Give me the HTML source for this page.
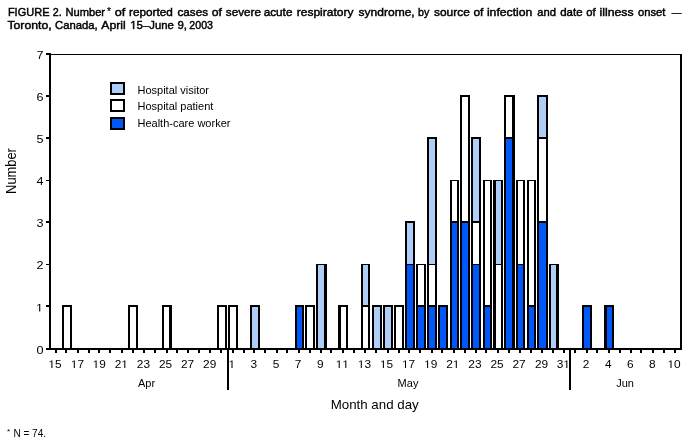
<!DOCTYPE html>
<html><head><meta charset="utf-8"><style>
html,body{margin:0;padding:0;background:#fff;}
svg{display:block;}
#wrap{will-change:transform;width:692px;height:444px;}
text{font-family:"Liberation Sans",sans-serif;fill:#000;}
.r11{font-size:11px;}
.r10{font-size:10px;}
.r8{font-size:8px;}
.r13{font-size:13px;}
.ttl{font-size:11.5px;stroke:#000;stroke-width:0.45px;}
</style></head><body><div id="wrap">
<svg width="692" height="444" viewBox="0 0 692 444" shape-rendering="crispEdges">
<rect width="692" height="444" fill="#fff"/>
<rect x="49" y="53" width="2" height="297" fill="#000"/>
<rect x="49" y="54" width="633" height="1" fill="#000"/>
<rect x="680" y="54" width="2" height="296" fill="#000"/>
<rect x="62" y="305" width="10" height="43" fill="#000"/>
<rect x="64" y="307" width="6" height="41" fill="#ffffff"/>
<rect x="128" y="305" width="10" height="43" fill="#000"/>
<rect x="130" y="307" width="6" height="41" fill="#ffffff"/>
<rect x="162" y="305" width="10" height="43" fill="#000"/>
<rect x="164" y="307" width="5" height="41" fill="#ffffff"/>
<rect x="217" y="305" width="10" height="43" fill="#000"/>
<rect x="219" y="307" width="6" height="41" fill="#ffffff"/>
<rect x="228" y="305" width="10" height="43" fill="#000"/>
<rect x="230" y="307" width="6" height="41" fill="#ffffff"/>
<rect x="250" y="305" width="10" height="43" fill="#000"/>
<rect x="252" y="307" width="6" height="41" fill="#b0cdf8"/>
<rect x="295" y="305" width="9" height="43" fill="#000"/>
<rect x="297" y="307" width="5" height="41" fill="#0058f8"/>
<rect x="305" y="305" width="10" height="43" fill="#000"/>
<rect x="307" y="307" width="6" height="41" fill="#ffffff"/>
<rect x="316" y="264" width="11" height="84" fill="#000"/>
<rect x="318" y="265" width="6" height="83" fill="#b0cdf8"/>
<rect x="338" y="305" width="10" height="43" fill="#000"/>
<rect x="341" y="307" width="5" height="41" fill="#ffffff"/>
<rect x="361" y="264" width="9" height="84" fill="#000"/>
<rect x="363" y="307" width="5" height="41" fill="#ffffff"/>
<rect x="363" y="265" width="5" height="40" fill="#b0cdf8"/>
<rect x="372" y="305" width="10" height="43" fill="#000"/>
<rect x="374" y="307" width="6" height="41" fill="#b0cdf8"/>
<rect x="383" y="305" width="10" height="43" fill="#000"/>
<rect x="385" y="307" width="6" height="41" fill="#b0cdf8"/>
<rect x="394" y="305" width="10" height="43" fill="#000"/>
<rect x="396" y="307" width="6" height="41" fill="#ffffff"/>
<rect x="405" y="221" width="10" height="127" fill="#000"/>
<rect x="407" y="265" width="6" height="83" fill="#0058f8"/>
<rect x="407" y="223" width="6" height="41" fill="#b0cdf8"/>
<rect x="416" y="264" width="10" height="84" fill="#000"/>
<rect x="418" y="307" width="6" height="41" fill="#0058f8"/>
<rect x="418" y="265" width="6" height="40" fill="#ffffff"/>
<rect x="427" y="137" width="10" height="211" fill="#000"/>
<rect x="429" y="307" width="6" height="41" fill="#0058f8"/>
<rect x="429" y="265" width="6" height="40" fill="#ffffff"/>
<rect x="429" y="139" width="6" height="125" fill="#b0cdf8"/>
<rect x="438" y="305" width="10" height="43" fill="#000"/>
<rect x="440" y="307" width="6" height="41" fill="#0058f8"/>
<rect x="450" y="180" width="9" height="168" fill="#000"/>
<rect x="452" y="223" width="5" height="125" fill="#0058f8"/>
<rect x="452" y="181" width="5" height="40" fill="#ffffff"/>
<rect x="460" y="95" width="10" height="253" fill="#000"/>
<rect x="462" y="223" width="6" height="125" fill="#0058f8"/>
<rect x="462" y="97" width="6" height="124" fill="#ffffff"/>
<rect x="471" y="137" width="10" height="211" fill="#000"/>
<rect x="473" y="265" width="6" height="83" fill="#0058f8"/>
<rect x="473" y="223" width="6" height="41" fill="#ffffff"/>
<rect x="473" y="139" width="6" height="82" fill="#b0cdf8"/>
<rect x="483" y="180" width="9" height="168" fill="#000"/>
<rect x="485" y="307" width="5" height="41" fill="#0058f8"/>
<rect x="485" y="181" width="5" height="124" fill="#ffffff"/>
<rect x="493" y="180" width="10" height="168" fill="#000"/>
<rect x="496" y="265" width="5" height="83" fill="#ffffff"/>
<rect x="496" y="181" width="5" height="83" fill="#b0cdf8"/>
<rect x="504" y="95" width="11" height="253" fill="#000"/>
<rect x="506" y="139" width="6" height="209" fill="#0058f8"/>
<rect x="506" y="97" width="6" height="40" fill="#ffffff"/>
<rect x="516" y="180" width="9" height="168" fill="#000"/>
<rect x="518" y="265" width="5" height="83" fill="#0058f8"/>
<rect x="518" y="181" width="5" height="83" fill="#ffffff"/>
<rect x="527" y="180" width="9" height="168" fill="#000"/>
<rect x="529" y="307" width="5" height="41" fill="#0058f8"/>
<rect x="529" y="181" width="5" height="124" fill="#ffffff"/>
<rect x="537" y="95" width="11" height="253" fill="#000"/>
<rect x="539" y="223" width="7" height="125" fill="#0058f8"/>
<rect x="539" y="139" width="7" height="82" fill="#ffffff"/>
<rect x="539" y="97" width="7" height="40" fill="#b0cdf8"/>
<rect x="549" y="264" width="10" height="84" fill="#000"/>
<rect x="551" y="265" width="5" height="83" fill="#b0cdf8"/>
<rect x="582" y="305" width="10" height="43" fill="#000"/>
<rect x="584" y="307" width="6" height="41" fill="#0058f8"/>
<rect x="604" y="305" width="10" height="43" fill="#000"/>
<rect x="607" y="307" width="5" height="41" fill="#0058f8"/>
<rect x="46" y="348" width="636" height="2" fill="#000"/>
<rect x="46" y="348" width="3" height="2" fill="#000"/>
<rect x="46" y="305" width="3" height="2" fill="#000"/>
<rect x="46" y="264" width="3" height="1" fill="#000"/>
<rect x="46" y="221" width="3" height="2" fill="#000"/>
<rect x="46" y="180" width="3" height="1" fill="#000"/>
<rect x="46" y="137" width="3" height="2" fill="#000"/>
<rect x="46" y="95" width="3" height="2" fill="#000"/>
<rect x="46" y="53" width="3" height="2" fill="#000"/>
<rect x="55" y="350" width="2" height="3" fill="#000"/>
<rect x="65" y="350" width="2" height="3" fill="#000"/>
<rect x="77" y="350" width="2" height="3" fill="#000"/>
<rect x="88" y="350" width="2" height="3" fill="#000"/>
<rect x="98" y="350" width="2" height="3" fill="#000"/>
<rect x="109" y="350" width="2" height="3" fill="#000"/>
<rect x="121" y="350" width="2" height="3" fill="#000"/>
<rect x="132" y="350" width="2" height="3" fill="#000"/>
<rect x="143" y="350" width="2" height="3" fill="#000"/>
<rect x="154" y="350" width="2" height="3" fill="#000"/>
<rect x="166" y="350" width="2" height="3" fill="#000"/>
<rect x="176" y="350" width="2" height="3" fill="#000"/>
<rect x="187" y="350" width="2" height="3" fill="#000"/>
<rect x="198" y="350" width="2" height="3" fill="#000"/>
<rect x="209" y="350" width="2" height="3" fill="#000"/>
<rect x="220" y="350" width="2" height="3" fill="#000"/>
<rect x="232" y="350" width="2" height="3" fill="#000"/>
<rect x="243" y="350" width="2" height="3" fill="#000"/>
<rect x="253" y="350" width="2" height="3" fill="#000"/>
<rect x="264" y="350" width="2" height="3" fill="#000"/>
<rect x="276" y="350" width="2" height="3" fill="#000"/>
<rect x="286" y="350" width="2" height="3" fill="#000"/>
<rect x="298" y="350" width="2" height="3" fill="#000"/>
<rect x="309" y="350" width="2" height="3" fill="#000"/>
<rect x="320" y="350" width="2" height="3" fill="#000"/>
<rect x="330" y="350" width="2" height="3" fill="#000"/>
<rect x="342" y="350" width="2" height="3" fill="#000"/>
<rect x="353" y="350" width="2" height="3" fill="#000"/>
<rect x="364" y="350" width="2" height="3" fill="#000"/>
<rect x="375" y="350" width="2" height="3" fill="#000"/>
<rect x="387" y="350" width="2" height="3" fill="#000"/>
<rect x="398" y="350" width="2" height="3" fill="#000"/>
<rect x="408" y="350" width="2" height="3" fill="#000"/>
<rect x="419" y="350" width="2" height="3" fill="#000"/>
<rect x="431" y="350" width="2" height="3" fill="#000"/>
<rect x="441" y="350" width="2" height="3" fill="#000"/>
<rect x="453" y="350" width="2" height="3" fill="#000"/>
<rect x="464" y="350" width="2" height="3" fill="#000"/>
<rect x="475" y="350" width="2" height="3" fill="#000"/>
<rect x="485" y="350" width="2" height="3" fill="#000"/>
<rect x="497" y="350" width="2" height="3" fill="#000"/>
<rect x="508" y="350" width="2" height="3" fill="#000"/>
<rect x="519" y="350" width="2" height="3" fill="#000"/>
<rect x="530" y="350" width="2" height="3" fill="#000"/>
<rect x="541" y="350" width="2" height="3" fill="#000"/>
<rect x="552" y="350" width="2" height="3" fill="#000"/>
<rect x="563" y="350" width="2" height="3" fill="#000"/>
<rect x="574" y="350" width="2" height="3" fill="#000"/>
<rect x="586" y="350" width="2" height="3" fill="#000"/>
<rect x="596" y="350" width="2" height="3" fill="#000"/>
<rect x="608" y="350" width="2" height="3" fill="#000"/>
<rect x="619" y="350" width="2" height="3" fill="#000"/>
<rect x="630" y="350" width="2" height="3" fill="#000"/>
<rect x="640" y="350" width="2" height="3" fill="#000"/>
<rect x="652" y="350" width="2" height="3" fill="#000"/>
<rect x="663" y="350" width="2" height="3" fill="#000"/>
<rect x="674" y="350" width="2" height="3" fill="#000"/>
<rect x="227" y="348" width="2" height="42" fill="#000"/>
<rect x="569" y="348" width="2" height="42" fill="#000"/>
<rect x="110" y="82" width="15" height="13" fill="#000"/>
<rect x="112" y="84" width="11" height="9" fill="#b0cdf8"/>
<rect x="110" y="99" width="15" height="13" fill="#000"/>
<rect x="112" y="101" width="11" height="9" fill="#ffffff"/>
<rect x="110" y="117" width="15" height="13" fill="#000"/>
<rect x="112" y="119" width="11" height="9" fill="#0058f8"/>
<g shape-rendering="auto">
<text transform="translate(36.56,353.5) scale(1.15,1)" class="r11">0</text>
<path transform="translate(35.96,311.5) scale(0.006177,-0.005371)" d="M515,0L515,1237L197,1010L197,1180L530,1409L696,1409L696,0Z"/>
<text transform="translate(36.56,269.0) scale(1.15,1)" class="r11">2</text>
<text transform="translate(36.56,226.5) scale(1.15,1)" class="r11">3</text>
<text transform="translate(36.56,185.0) scale(1.15,1)" class="r11">4</text>
<text transform="translate(36.56,142.5) scale(1.15,1)" class="r11">5</text>
<text transform="translate(36.56,100.5) scale(1.15,1)" class="r11">6</text>
<text transform="translate(36.56,58.5) scale(1.15,1)" class="r11">7</text>
<path transform="translate(48.39,368) scale(0.005801,-0.005371)" d="M515,0L515,1237L197,1010L197,1180L530,1409L696,1409L696,0Z"/>
<text transform="translate(55.00,368) scale(1.08,1)" class="r11">5</text>
<path transform="translate(70.79,368) scale(0.005801,-0.005371)" d="M515,0L515,1237L197,1010L197,1180L530,1409L696,1409L696,0Z"/>
<text transform="translate(77.40,368) scale(1.08,1)" class="r11">7</text>
<path transform="translate(92.59,368) scale(0.005801,-0.005371)" d="M515,0L515,1237L197,1010L197,1180L530,1409L696,1409L696,0Z"/>
<text transform="translate(99.20,368) scale(1.08,1)" class="r11">9</text>
<text transform="translate(114.69,368) scale(1.08,1)" class="r11">2</text>
<path transform="translate(121.30,368) scale(0.005801,-0.005371)" d="M515,0L515,1237L197,1010L197,1180L530,1409L696,1409L696,0Z"/>
<text transform="translate(136.79,368) scale(1.08,1)" class="r11">2</text>
<text transform="translate(143.40,368) scale(1.08,1)" class="r11">3</text>
<text transform="translate(158.89,368) scale(1.08,1)" class="r11">2</text>
<text transform="translate(165.50,368) scale(1.08,1)" class="r11">5</text>
<text transform="translate(180.99,368) scale(1.08,1)" class="r11">2</text>
<text transform="translate(187.60,368) scale(1.08,1)" class="r11">7</text>
<text transform="translate(203.09,368) scale(1.08,1)" class="r11">2</text>
<text transform="translate(209.70,368) scale(1.08,1)" class="r11">9</text>
<path transform="translate(228.50,368) scale(0.005801,-0.005371)" d="M515,0L515,1237L197,1010L197,1180L530,1409L696,1409L696,0Z"/>
<text transform="translate(250.60,368) scale(1.08,1)" class="r11">3</text>
<text transform="translate(272.70,368) scale(1.08,1)" class="r11">5</text>
<text transform="translate(294.80,368) scale(1.08,1)" class="r11">7</text>
<text transform="translate(316.90,368) scale(1.08,1)" class="r11">9</text>
<path transform="translate(335.69,368) scale(0.005801,-0.005371)" d="M515,0L515,1237L197,1010L197,1180L530,1409L696,1409L696,0Z"/>
<path transform="translate(342.30,368) scale(0.005801,-0.005371)" d="M515,0L515,1237L197,1010L197,1180L530,1409L696,1409L696,0Z"/>
<path transform="translate(357.79,368) scale(0.005801,-0.005371)" d="M515,0L515,1237L197,1010L197,1180L530,1409L696,1409L696,0Z"/>
<text transform="translate(364.40,368) scale(1.08,1)" class="r11">3</text>
<path transform="translate(379.89,368) scale(0.005801,-0.005371)" d="M515,0L515,1237L197,1010L197,1180L530,1409L696,1409L696,0Z"/>
<text transform="translate(386.50,368) scale(1.08,1)" class="r11">5</text>
<path transform="translate(401.99,368) scale(0.005801,-0.005371)" d="M515,0L515,1237L197,1010L197,1180L530,1409L696,1409L696,0Z"/>
<text transform="translate(408.60,368) scale(1.08,1)" class="r11">7</text>
<path transform="translate(424.09,368) scale(0.005801,-0.005371)" d="M515,0L515,1237L197,1010L197,1180L530,1409L696,1409L696,0Z"/>
<text transform="translate(430.70,368) scale(1.08,1)" class="r11">9</text>
<text transform="translate(446.19,368) scale(1.08,1)" class="r11">2</text>
<path transform="translate(452.80,368) scale(0.005801,-0.005371)" d="M515,0L515,1237L197,1010L197,1180L530,1409L696,1409L696,0Z"/>
<text transform="translate(468.29,368) scale(1.08,1)" class="r11">2</text>
<text transform="translate(474.90,368) scale(1.08,1)" class="r11">3</text>
<text transform="translate(490.39,368) scale(1.08,1)" class="r11">2</text>
<text transform="translate(497.00,368) scale(1.08,1)" class="r11">5</text>
<text transform="translate(512.49,368) scale(1.08,1)" class="r11">2</text>
<text transform="translate(519.10,368) scale(1.08,1)" class="r11">7</text>
<text transform="translate(534.99,368) scale(1.08,1)" class="r11">2</text>
<text transform="translate(541.60,368) scale(1.08,1)" class="r11">9</text>
<text transform="translate(556.69,368) scale(1.08,1)" class="r11">3</text>
<path transform="translate(563.30,368) scale(0.005801,-0.005371)" d="M515,0L515,1237L197,1010L197,1180L530,1409L696,1409L696,0Z"/>
<text transform="translate(582.70,368) scale(1.08,1)" class="r11">2</text>
<text transform="translate(605.00,368) scale(1.08,1)" class="r11">4</text>
<text transform="translate(627.10,368) scale(1.08,1)" class="r11">6</text>
<text transform="translate(649.00,368) scale(1.08,1)" class="r11">8</text>
<path transform="translate(667.49,368) scale(0.005801,-0.005371)" d="M515,0L515,1237L197,1010L197,1180L530,1409L696,1409L696,0Z"/>
<text transform="translate(674.10,368) scale(1.08,1)" class="r11">0</text>
<text x="146.5" y="387" text-anchor="middle" class="r11">Apr</text>
<text x="408" y="387" text-anchor="middle" class="r11">May</text>
<text x="625" y="387" text-anchor="middle" class="r11">Jun</text>
<text x="374.7" y="408.8" text-anchor="middle" class="r13" style="font-size:13.3px">Month and day</text>
<text transform="translate(16.1,171) rotate(-90)" x="-22.9" class="r13" style="font-size:13.8px" textLength="45.8" lengthAdjust="spacingAndGlyphs">Number</text>
<text x="137.5" y="94" class="r11">Hospital visitor</text>
<text x="137.5" y="110" class="r11">Hospital patient</text>
<text x="137.5" y="127" class="r11">Health-care worker</text>
<text x="7.90" y="16" class="ttl" textLength="41.63" lengthAdjust="spacingAndGlyphs">FIGURE</text>
<text x="52.80" y="16" class="ttl" textLength="8.95" lengthAdjust="spacingAndGlyphs">2.</text>
<text x="65.50" y="16" class="ttl" textLength="39.51" lengthAdjust="spacingAndGlyphs">Number</text>
<text x="114.70" y="16" class="ttl" textLength="10.55" lengthAdjust="spacingAndGlyphs">of</text>
<text x="129.00" y="16" class="ttl" textLength="43.84" lengthAdjust="spacingAndGlyphs">reported</text>
<text x="177.50" y="16" class="ttl" textLength="30.55" lengthAdjust="spacingAndGlyphs">cases</text>
<text x="211.80" y="16" class="ttl" textLength="10.17" lengthAdjust="spacingAndGlyphs">of</text>
<text x="225.80" y="16" class="ttl" textLength="35.24" lengthAdjust="spacingAndGlyphs">severe</text>
<text x="263.70" y="16" class="ttl" textLength="28.74" lengthAdjust="spacingAndGlyphs">acute</text>
<text x="296.70" y="16" class="ttl" textLength="56.80" lengthAdjust="spacingAndGlyphs">respiratory</text>
<text x="358.50" y="16" class="ttl" textLength="56.22" lengthAdjust="spacingAndGlyphs">syndrome,</text>
<text x="418.00" y="16" class="ttl" textLength="11.31" lengthAdjust="spacingAndGlyphs">by</text>
<text x="434.00" y="16" class="ttl" textLength="35.85" lengthAdjust="spacingAndGlyphs">source</text>
<text x="473.40" y="16" class="ttl" textLength="9.98" lengthAdjust="spacingAndGlyphs">of</text>
<text x="486.90" y="16" class="ttl" textLength="45.53" lengthAdjust="spacingAndGlyphs">infection</text>
<text x="537.20" y="16" class="ttl" textLength="18.68" lengthAdjust="spacingAndGlyphs">and</text>
<text x="560.20" y="16" class="ttl" textLength="22.39" lengthAdjust="spacingAndGlyphs">date</text>
<text x="586.20" y="16" class="ttl" textLength="9.40" lengthAdjust="spacingAndGlyphs">of</text>
<text x="599.50" y="16" class="ttl" textLength="34.07" lengthAdjust="spacingAndGlyphs">illness</text>
<text x="638.00" y="16" class="ttl" textLength="27.46" lengthAdjust="spacingAndGlyphs">onset</text>
<text x="671.85" y="16" class="ttl" textLength="9.73" lengthAdjust="spacingAndGlyphs">—</text>
<text x="7.40" y="29" class="ttl" textLength="44.20" lengthAdjust="spacingAndGlyphs">Toronto,</text>
<text x="55.00" y="29" class="ttl" textLength="42.68" lengthAdjust="spacingAndGlyphs">Canada,</text>
<text x="101.30" y="29" class="ttl" textLength="24.32" lengthAdjust="spacingAndGlyphs">April</text>
<path transform="translate(130.30,29) scale(0.005539,-0.005615)" d="M515,0L515,1237L197,1010L197,1180L530,1409L696,1409L696,0Z" stroke="#000" stroke-width="80.1"/>
<text x="136.61" y="29" class="ttl" textLength="37.21" lengthAdjust="spacingAndGlyphs">5–June</text>
<text x="177.50" y="29" class="ttl" textLength="9.49" lengthAdjust="spacingAndGlyphs">9,</text>
<text x="189.30" y="29" class="ttl" textLength="23.72" lengthAdjust="spacingAndGlyphs">2003</text>
<text x="107" y="15" class="ttl" style="font-size:10px;stroke-width:0.2px">*</text>
<text x="7" y="434.2" class="r8">*</text>
<text x="13.5" y="437" class="r10">N = 74.</text>
</g>
</svg></div>
</body></html>
